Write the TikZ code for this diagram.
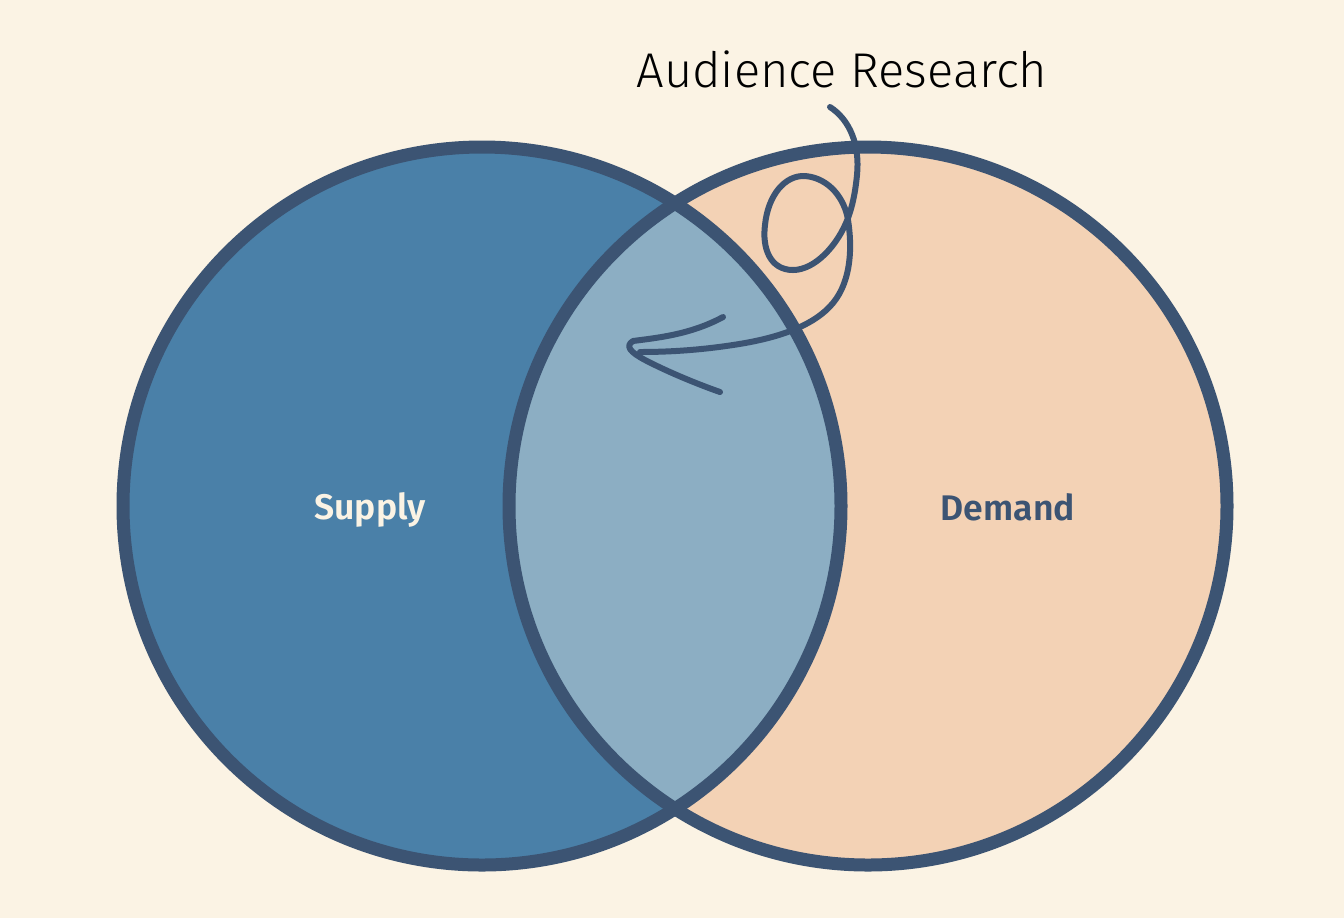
\documentclass[tikz,border=0pt]{standalone}
\usepackage{fontspec}
\setmainfont{Fira Sans}
\newfontfamily\lightfont{Fira Sans Light}
\newfontfamily\semifont{Fira Sans SemiBold}
\usepackage{xcolor}
\usetikzlibrary{calc, positioning}

\definecolor{paper}{HTML}{FBF3E4}
\definecolor{supplyfill}{HTML}{4A80A8}
\definecolor{demandfill}{HTML}{F3D2B5}
\definecolor{overlapfill}{HTML}{8CAEC3}
\definecolor{edgeblue}{HTML}{3C5473}

\tikzset{
    ring/.style={draw=edgeblue, line width=6.5pt},
    brush/.style={draw=edgeblue, line width=3pt, line cap=round, line join=round},
    setlabel/.style={anchor=base, font=\semifont\fontsize{17.8}{20}\selectfont}
}

\begin{document}
\begin{tikzpicture}[x=0.5pt, y=-0.5pt]
    % Background
    \fill[paper] (0,0) rectangle (1344,918);
    \useasboundingbox (0,0) rectangle (1344,918);

    % Two circles
    \coordinate (cs) at (482,506);
    \coordinate (cd) at (868,506);
    \fill[supplyfill] (cs) circle[radius=359];
    \fill[demandfill] (cd) circle[radius=359];
    \begin{scope}
        \clip (cs) circle[radius=359];
        \fill[overlapfill] (cd) circle[radius=359];
    \end{scope}
    \draw[ring] (cs) circle[radius=359];
    \draw[ring] (cd) circle[radius=359];

    % Labels
    \node[setlabel, text=paper] (supply) at (370,519) {Supply};
    \node[setlabel, text=edgeblue] (demand) at (1008,520) {Demand};
    \node[anchor=base, font=\lightfont\fontsize{24.4}{28}\selectfont] (research) at (842,87) {Audience Research};

    % Curly arrow
    \coordinate (curl) at (830,107);
    \coordinate (tail) at (640,352);
    \coordinate (barbtop) at (723,317);
    \coordinate (tip) at (633,341);
    \coordinate (barbbot) at (720,392);
    \draw[brush] (curl) .. controls (850,120) and (860,145) .. (857,175)
        .. controls (855,195) and (852,207) .. (848,218)
        .. controls (838,245) and (815,270) .. (793,270)
        .. controls (770,270) and (762,248) .. (765,225)
        .. controls (768,195) and (785,175) .. (805,176)
        .. controls (830,178) and (845,200) .. (848,220)
        .. controls (852,245) and (852,280) .. (833,303)
        .. controls (815,325) and (780,338) .. (733,345)
        .. controls (700,350) and (670,352) .. (tail);
    \draw[brush] (barbtop) .. controls (690,335) and (655,338) .. (tip)
        .. controls (625,346) and (630,352) .. (645,360)
        .. controls (670,373) and (700,385) .. (barbbot);
\end{tikzpicture}
\end{document}
